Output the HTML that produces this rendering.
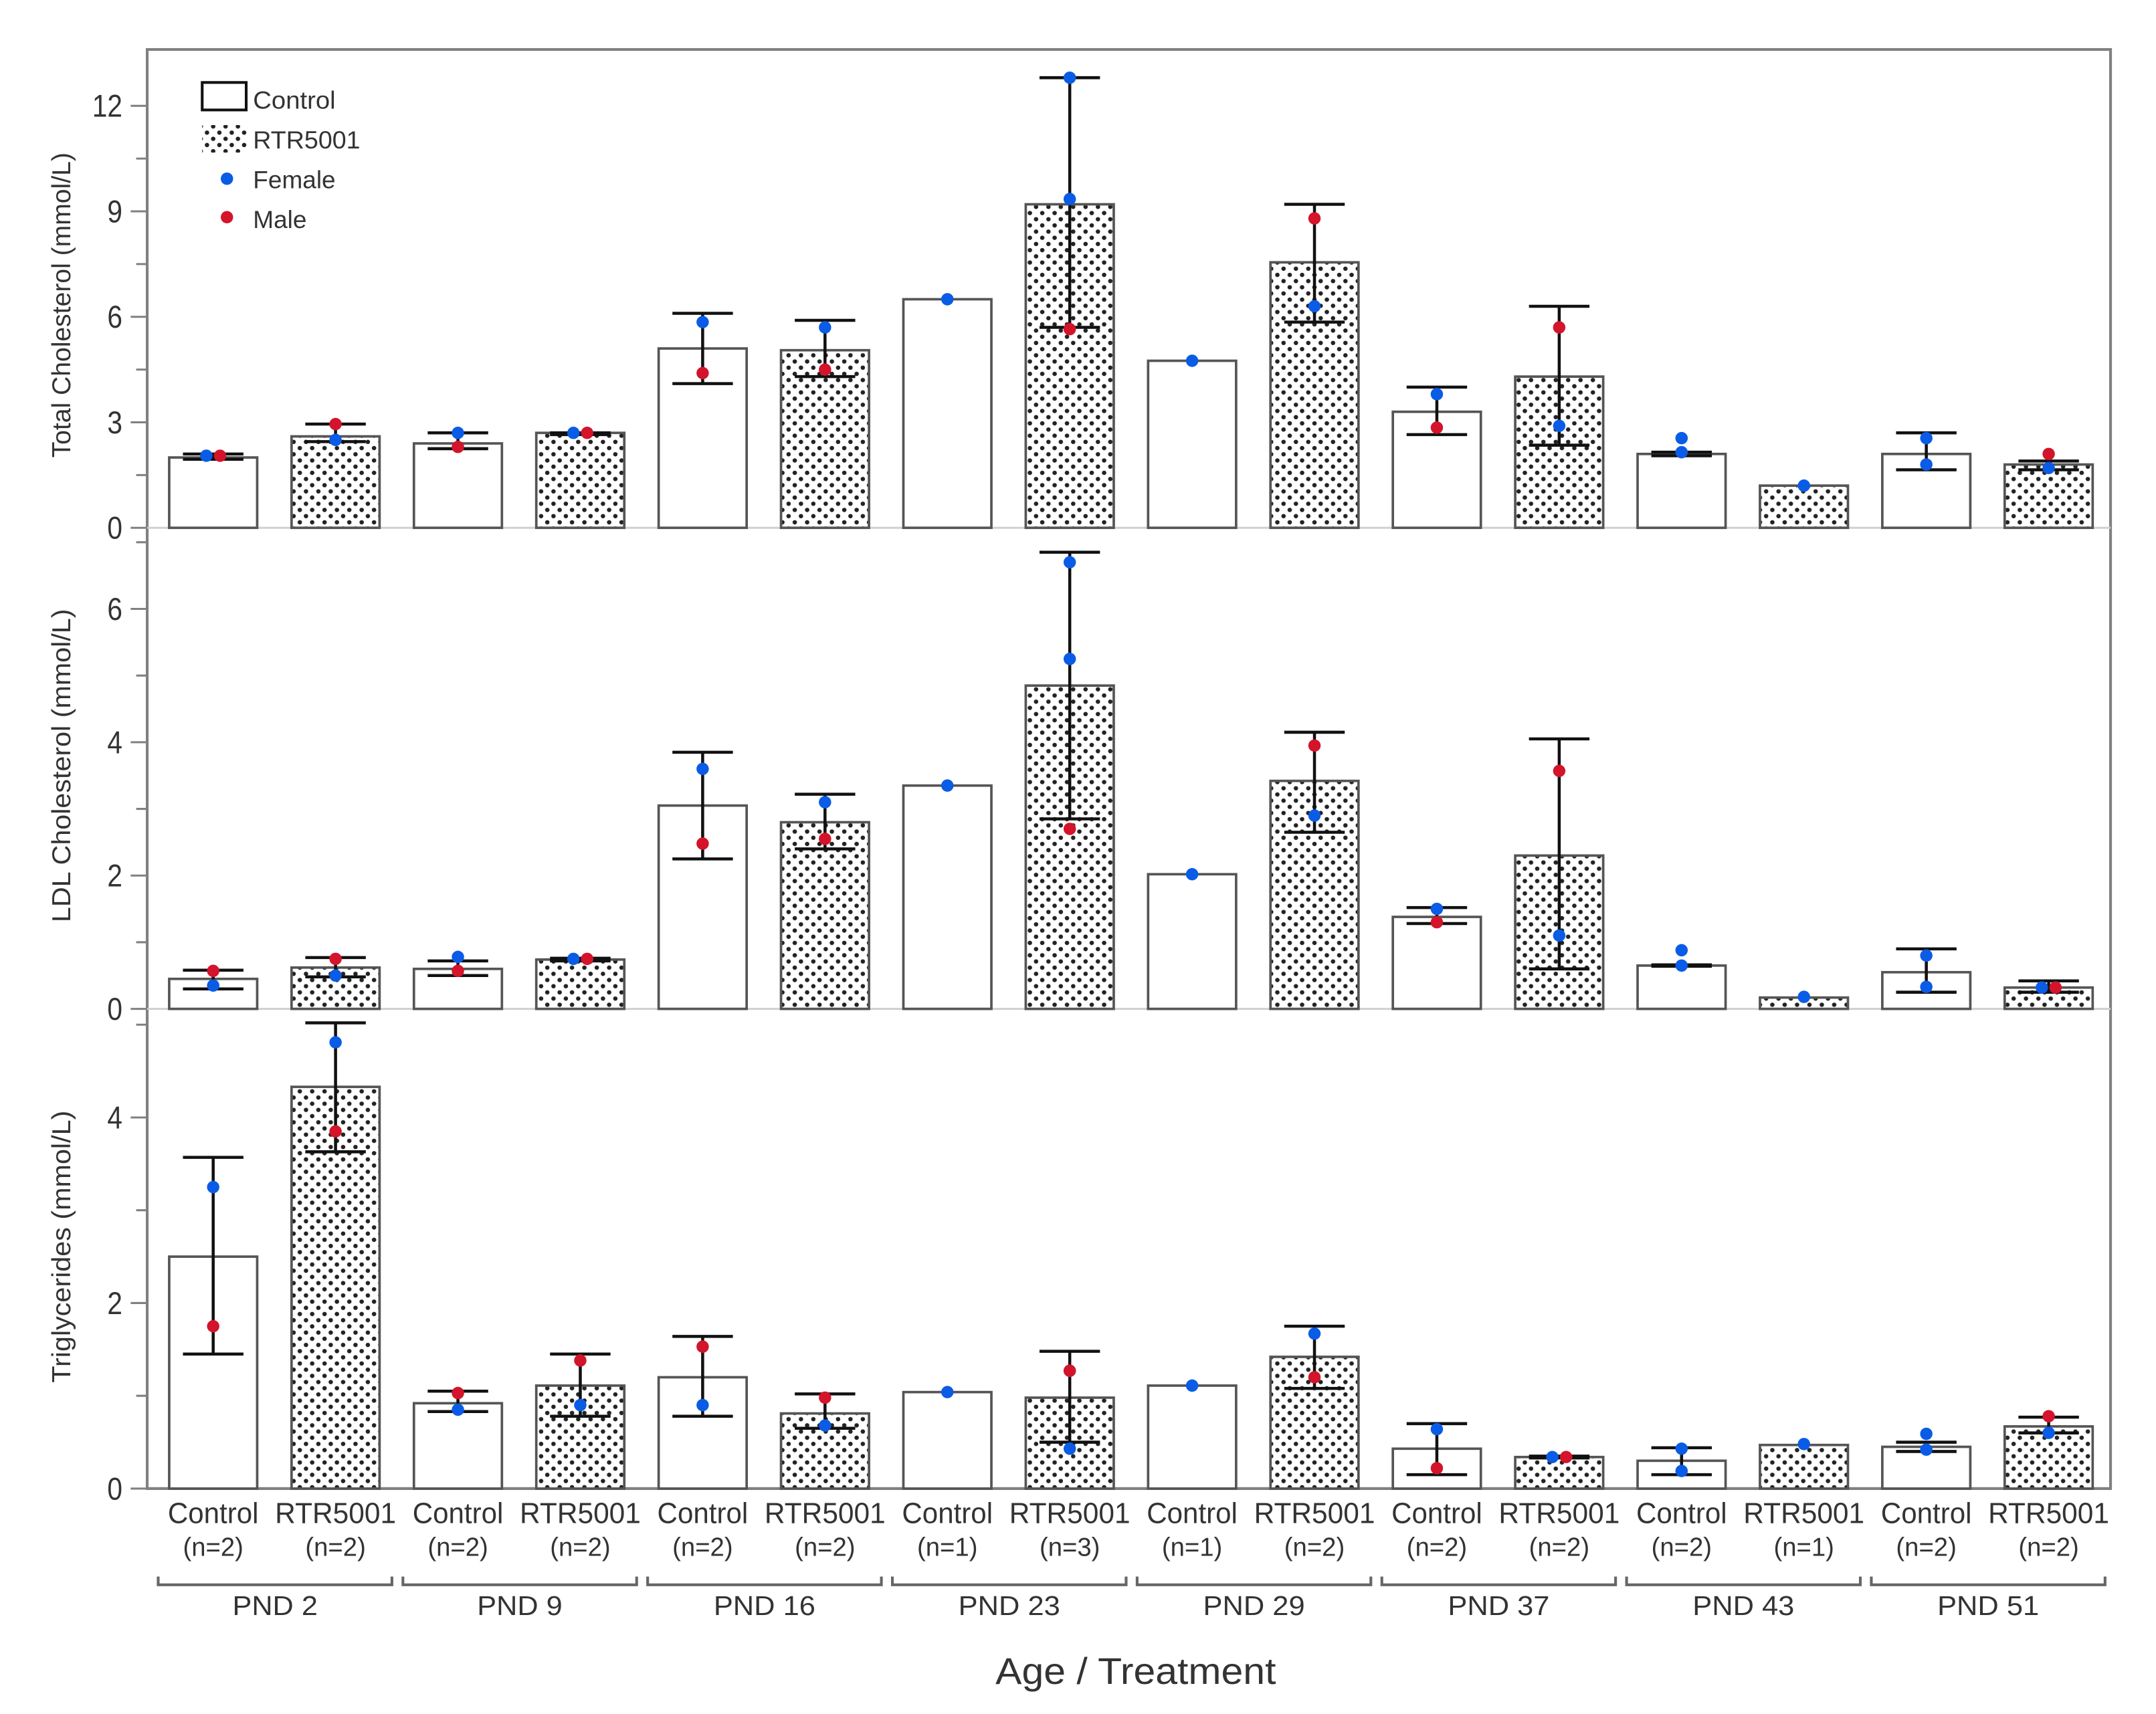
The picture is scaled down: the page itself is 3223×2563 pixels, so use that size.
<!DOCTYPE html>
<html><head><meta charset="utf-8"><style>
html,body{margin:0;padding:0;background:#fff}
svg{display:block}
text{font-family:"Liberation Sans",sans-serif;fill:#333}
</style></head><body>
<svg id="chart" xmlns="http://www.w3.org/2000/svg" width="3223" height="2563" viewBox="0 0 1568 1247">
<defs>
<pattern id="dots" width="9" height="9" patternUnits="userSpaceOnUse">
<rect width="9" height="9" fill="#fff"/>
<circle cx="2" cy="2" r="1.6" fill="#222"/>
<circle cx="6.5" cy="6.5" r="1.6" fill="#222"/>
</pattern>
</defs>
<g id="root"></g>
</svg>
<script>
const groups = ["PND 2","PND 9","PND 16","PND 23","PND 29","PND 37","PND 43","PND 51"];
const treatments = ["Control","RTR5001"];
const nLabels = ["(n=2)","(n=2)","(n=2)","(n=2)","(n=2)","(n=2)","(n=1)","(n=3)","(n=1)","(n=2)","(n=2)","(n=2)","(n=2)","(n=1)","(n=2)","(n=2)"];

// Total cholesterol
const tcMean = [2.0,2.6,2.4,2.7,5.1,5.05,6.5,9.2,4.75,7.55,3.3,4.3,2.1,1.2,2.1,1.8];
const tcLo   = [1.95,2.45,2.25,2.65,4.1,4.3,null,5.7,null,5.85,2.65,2.35,2.05,null,1.65,1.65];
const tcHi   = [2.1,2.95,2.7,2.7,6.1,5.9,null,12.8,null,9.2,4.0,6.3,2.15,null,2.7,1.9];
const tcFemale = [[2.05],[2.5],[2.7],[2.7],[5.85],[5.7],[6.5],[12.8,9.35],[4.75],[6.3],[3.8],[2.9],[2.55,2.15],[1.2],[2.55,1.8],[1.7]];
const tcMale   = [[2.05],[2.95],[2.3],[2.7],[4.4],[4.5],[],[5.65],[],[8.8],[2.85],[5.7],[],[],[],[2.1]];
const tcTicks = [0,3,6,9,12];

// LDL cholesterol
const ldlMean = [0.45,0.62,0.6,0.74,3.05,2.8,3.35,4.85,2.02,3.42,1.38,2.3,0.65,0.17,0.55,0.32];
const ldlLo   = [0.3,0.48,0.5,0.72,2.25,2.4,null,2.85,null,2.65,1.28,0.6,0.64,null,0.25,0.25];
const ldlHi   = [0.58,0.77,0.72,0.76,3.85,3.22,null,6.85,null,4.15,1.52,4.05,0.66,null,0.9,0.42];
const ldlFemale = [[0.35],[0.5],[0.78],[0.75],[3.6],[3.1],[3.35],[6.7,5.25],[2.02],[2.9],[1.5],[1.1],[0.88,0.65],[0.18],[0.8,0.33],[0.32]];
const ldlMale   = [[0.57],[0.75],[0.57],[0.75],[2.48],[2.55],[],[2.7],[],[3.95],[1.3],[3.57],[],[],[],[0.32]];
const ldlTicks = [0,2,4,6];

// Triglycerides
const tgMean = [2.5,4.33,0.92,1.11,1.2,0.81,1.04,0.98,1.11,1.42,0.43,0.34,0.3,0.47,0.45,0.67];
const tgLo   = [1.45,3.63,0.83,0.78,0.78,0.65,null,0.5,null,1.08,0.15,0.33,0.15,null,0.4,0.6];
const tgHi   = [3.57,5.02,1.05,1.45,1.64,1.02,null,1.48,null,1.75,0.7,0.35,0.44,null,0.5,0.77];
const tgFemale = [[3.25],[4.81],[0.85],[0.9],[0.9],[0.68],[1.04],[1.27,0.43],[1.11],[1.67],[0.64],[0.34],[0.43,0.19],[0.48],[0.59,0.42],[0.6]];
const tgMale   = [[1.75],[3.85],[1.03],[1.38],[1.53],[0.98],[],[1.27],[],[1.2],[0.22],[0.34],[],[],[],[0.78]];
const tgTicks = [0,2,4];

const NS = "http://www.w3.org/2000/svg";
const root = document.getElementById("root");
function mk(tag, attrs, parent, txt){
  const e = document.createElementNS(NS, tag);
  for (const k in attrs) e.setAttribute(k, attrs[k]);
  if (txt !== undefined) e.textContent = txt;
  (parent||root).appendChild(e);
  return e;
}
const X0 = 107, X1 = 1535, TOP = 36;
const xScale = i => 155 + i*89;
const BW = 64;
const LA = "spacingAndGlyphs";

const panels = [
  {name:"total-cholesterol", title:"Total Cholesterol (mmol/L)", tlen:222, cy:222, zero:384, max:12, maxY:77, minor:1.5, mean:tcMean, lo:tcLo, hi:tcHi, f:tcFemale, m:tcMale, ticks:tcTicks, top:36},
  {name:"ldl-cholesterol", title:"LDL Cholesterol (mmol/L)", tlen:228, cy:557, zero:734, max:6, maxY:443, minor:1, mean:ldlMean, lo:ldlLo, hi:ldlHi, f:ldlFemale, m:ldlMale, ticks:ldlTicks, top:384},
  {name:"triglycerides", title:"Triglycerides (mmol/L)", tlen:198, cy:907, zero:1083, max:4, maxY:813, minor:1, mean:tgMean, lo:tgLo, hi:tgHi, f:tgFemale, m:tgMale, ticks:tgTicks, top:734}
];

const frame = mk("rect",{x:X0,y:TOP,width:X1-X0,height:1083-TOP,fill:"none",stroke:"#808080","stroke-width":2});



panels.forEach(p=>{
  const k = (p.zero - p.maxY)/p.max;
  const y = v => p.zero - v*k;
  const g = mk("g",{});
  
  
  const zl = mk("line",{x1:X0,x2:X1,y1:p.zero,y2:p.zero,stroke:p.zero===1083?"#808080":"#d0d0d0","stroke-width":p.zero===1083?2:1.5},g);
  
  
  const maxTick = p.ticks[p.ticks.length-1];
  for (let v=0; v<=maxTick+p.minor+0.001; v+=p.minor){
    if (y(v) < p.top+5) break;
    const major = p.ticks.some(t=>Math.abs(t-v)<1e-6);
    const tl = mk("line",{x1:major?X0-12:X0-8,x2:X0,y1:y(v),y2:y(v),stroke:"#808080","stroke-width":1.5},g);
    
    
  }
  p.ticks.forEach(t=>{
    const tx = mk("text",{x:X0-18,y:y(t)+8,"text-anchor":"end","font-size":23,textLength:String(t).length*11,lengthAdjust:LA},g,String(t));
    
    
  });
  const yt = mk("text",{x:0,y:0,"text-anchor":"middle","font-size":19,textLength:p.tlen,lengthAdjust:LA,transform:`translate(51,${p.cy}) rotate(-90)`},g,p.title);
  
  
  p.mean.forEach((v,i)=>{
    const cx = xScale(i);
    const b = mk("rect",{x:cx-BW/2,y:y(v),width:BW,height:p.zero-y(v),fill:i%2?"url(#dots)":"#fff",stroke:"#555","stroke-width":1.8},g);
    
    
    if (p.lo[i]!==null){
      const eg = mk("g",{stroke:"#111","stroke-width":2.2},g);
      
      
      mk("line",{x1:cx,x2:cx,y1:y(p.lo[i]),y2:y(p.hi[i])},eg);
      mk("line",{x1:cx-22,x2:cx+22,y1:y(p.lo[i]),y2:y(p.lo[i])},eg);
      mk("line",{x1:cx-22,x2:cx+22,y1:y(p.hi[i]),y2:y(p.hi[i])},eg);
    }
    const fm = p.f[i], mm = p.m[i];
    const offset = (fm.length===1 && mm.length===1 && Math.abs(fm[0]-mm[0])<0.05) ? 5 : 0;
    fm.forEach(v2=>{
      const c = mk("circle",{cx:cx-offset,cy:y(v2),r:4.5,fill:"#0a5ce6"},g);
      
      
    });
    mm.forEach(v2=>{
      const c = mk("circle",{cx:cx+offset,cy:y(v2),r:4.5,fill:"#d3142a"},g);
      
      
    });
  });
});

nLabels.forEach((n,i)=>{
  const t1 = mk("text",{x:xScale(i),y:1108,"text-anchor":"middle","font-size":21,textLength:i%2?88:66,lengthAdjust:LA},root,treatments[i%2]);
  
  
  const t2 = mk("text",{x:xScale(i),y:1132,"text-anchor":"middle","font-size":19,textLength:44,lengthAdjust:LA},root,n);
  
  
});
groups.forEach((gname,gi)=>{
  const a = xScale(2*gi)-40, b = xScale(2*gi+1)+41;
  const br = mk("path",{d:`M${a},1147 V1153 H${b} V1147`,fill:"none",stroke:"#666","stroke-width":2});
  
  
  const t = mk("text",{x:(a+b)/2,y:1175,"text-anchor":"middle","font-size":20,textLength:gname.length>5?74:62,lengthAdjust:LA},root,gname);
  
  
});
const xt = mk("text",{x:826,y:1225,"text-anchor":"middle","font-size":27,textLength:204,lengthAdjust:LA},root,"Age / Treatment");



const lg = mk("g",{});


const l1 = mk("rect",{x:147,y:60,width:32,height:20,fill:"#fff",stroke:"#111","stroke-width":2},lg);


mk("text",{x:184,y:79,"font-size":18,textLength:60,lengthAdjust:LA},lg,"Control");
const l2 = mk("rect",{x:147,y:91,width:33,height:20,fill:"url(#dots)"},lg);


mk("text",{x:184,y:108,"font-size":18,textLength:78,lengthAdjust:LA},lg,"RTR5001");
const l3 = mk("circle",{cx:165,cy:130,r:4.5,fill:"#0a5ce6"},lg);


mk("text",{x:184,y:137,"font-size":18,textLength:60,lengthAdjust:LA},lg,"Female");
const l4 = mk("circle",{cx:165,cy:158,r:4.5,fill:"#d3142a"},lg);


mk("text",{x:184,y:166,"font-size":18,textLength:39,lengthAdjust:LA},lg,"Male");
</script>
</body></html>
